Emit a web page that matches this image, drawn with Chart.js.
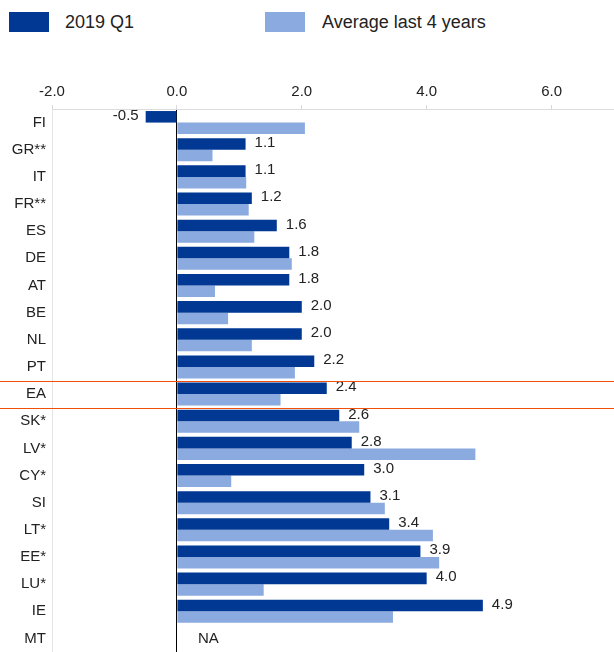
<!DOCTYPE html>
<html>
<head>
<meta charset="utf-8">
<script src="https://cdn.jsdelivr.net/npm/chart.js@4/dist/chart.umd.min.js"></script>
<style>
    html, body { margin: 0; padding: 0; background: #fff; }
    #wrap { position: relative; width: 614px; height: 652px; font-family: "Liberation Sans", Arial, sans-serif; }
    #chart { position: absolute; left: 0; top: 0; }
    .lg-box { position: absolute; top: 12px; width: 40px; height: 20px; }
    .lg-text { position: absolute; top: 11px; font-size: 18px; line-height: 22px; color: #222; }
</style>
</head>
<body>
<div id="wrap">
    <div class="lg-box" style="left:9px; background:#003894;"></div>
    <div class="lg-text" style="left:65px;">2019 Q1</div>
    <div class="lg-box" style="left:265px; background:#8baadf;"></div>
    <div class="lg-text" style="left:322px;">Average last 4 years</div>
    <canvas id="chart" width="614" height="652"></canvas>
</div>
<script>
    let countries = ['FI', 'GR**', 'IT', 'FR**', 'ES', 'DE', 'AT', 'BE', 'NL', 'PT', 'EA', 'SK*', 'LV*', 'CY*', 'SI', 'LT*', 'EE*', 'LU*', 'IE', 'MT'];
    let q1_2019 = [-0.5, 1.1, 1.1, 1.2, 1.6, 1.8, 1.8, 2.0, 2.0, 2.2, 2.4, 2.6, 2.8, 3.0, 3.1, 3.4, 3.9, 4.0, 4.9, null];
    let avg4y = [2.05, 0.57, 1.11, 1.15, 1.24, 1.84, 0.61, 0.82, 1.20, 1.89, 1.66, 2.92, 4.78, 0.87, 3.33, 4.10, 4.20, 1.39, 3.46, null];
    let xTicks = [-2, 0, 2, 4, 6];
    let highlightRow = 'EA';

    const FONT = '"Liberation Sans", Arial, sans-serif';

    //---------------------------------------------------------------
    // VALUE LABELS
    //---------------------------------------------------------------
    let labelPlugin = {
        id: 'valueLabels',
        afterDatasetsDraw(chart) {
            let ctx = chart.ctx;
            let meta = chart.getDatasetMeta(0);
            let xs = chart.scales.x;
            ctx.save();
            ctx.font = '15px ' + FONT;
            ctx.fillStyle = '#222';
            ctx.textBaseline = 'middle';
            for (let i = 0; i < q1_2019.length; i++) {
                let bar = meta.data[i];
                let v = q1_2019[i];
                if (v === null) {
                    ctx.textAlign = 'left';
                    ctx.fillText('NA', xs.getPixelForValue(0) + 21, chart.scales.y.getPixelForValue(i));
                    continue;
                }
                if (v < 0) {
                    ctx.textAlign = 'right';
                    ctx.fillText(v.toFixed(1), bar.x - 7, bar.y - 1);
                } else {
                    ctx.textAlign = 'left';
                    ctx.fillText(v.toFixed(1), bar.x + 9, bar.y - 1);
                }
            }
            ctx.restore();
        },
        //---------------------------------------------------------------
        // EA HIGHLIGHT LINES
        //---------------------------------------------------------------
        afterDraw(chart) {
            let ctx = chart.ctx;
            let ys = chart.scales.y;
            let idx = countries.indexOf(highlightRow);
            let half = (ys.getPixelForValue(1) - ys.getPixelForValue(0)) / 2;
            let yc = ys.getPixelForValue(idx);
            ctx.save();
            ctx.strokeStyle = '#f0500a';
            ctx.lineWidth = 1;
            [yc - half, yc + half].forEach(function (yy) {
                ctx.beginPath();
                ctx.moveTo(0, Math.round(yy) + 0.5);
                ctx.lineTo(chart.width, Math.round(yy) + 0.5);
                ctx.stroke();
            });
            ctx.restore();
        }
    };

    //---------------------------------------------------------------
    // CHART
    //---------------------------------------------------------------
    var ctx = document.getElementById('chart').getContext('2d');
    var chart = new Chart(ctx, {
        type: 'bar',
        data: {
            labels: countries,
            datasets: [{
                label: '2019 Q1',
                data: q1_2019,
                backgroundColor: '#003894'
            }, {
                label: 'Average last 4 years',
                data: avg4y,
                backgroundColor: '#8baadf'
            }]
        },
        options: {
            indexAxis: 'y',
            responsive: false,
            animation: false,
            barPercentage: 1,
            categoryPercentage: 0.85,
            layout: { padding: { top: 0, right: 0, left: 0, bottom: -3 } },
            plugins: {
                legend: { display: false },
                tooltip: { enabled: false }
            },
            scales: {
                x: {
                    position: 'top',
                    min: -2,
                    max: 7,
                    afterBuildTicks: function (scale) {
                        scale.ticks = xTicks.map(function (v) { return { value: v }; });
                    },
                    afterFit: function (scale) {
                        scale.height = 109;
                        scale.paddingLeft = 0;
                        scale.paddingRight = 0;
                    },
                    ticks: {
                        padding: 4,
                        color: '#222',
                        font: { family: FONT, size: 15 },
                        callback: function (v) { return Number(v).toFixed(1); }
                    },
                    grid: {
                        drawOnChartArea: true,
                        color: function (c) { return c.tick && c.tick.value === 0 ? '#000' : 'rgba(0,0,0,0)'; },
                        tickColor: '#d8d8d8',
                        tickLength: 4
                    },
                    border: { display: true, color: '#dcdcdc' }
                },
                y: {
                    afterFit: function (scale) {
                        scale.width = 52;
                        scale.paddingTop = 0;
                        scale.paddingBottom = 0;
                    },
                    ticks: {
                        padding: 6,
                        color: '#222',
                        font: { family: FONT, size: 15 }
                    },
                    grid: { display: false, drawTicks: false },
                    border: { display: true, color: '#e4e4e4' }
                }
            }
        },
        plugins: [labelPlugin]
    });
</script>
</body>
</html>
